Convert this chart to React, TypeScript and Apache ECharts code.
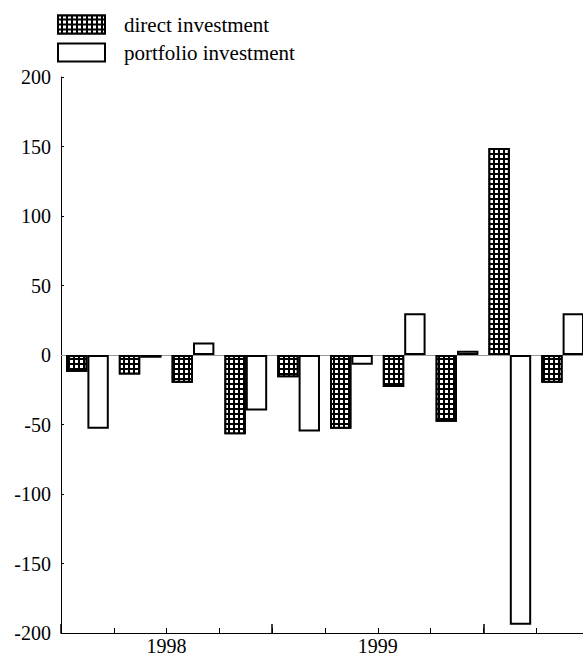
import React, { useEffect, useRef } from "react";
import * as echarts from "echarts";

const categories = ["1998Q1", "1998Q2", "1998Q3", "1998Q4", "1999Q1", "1999Q2", "1999Q3", "1999Q4", "2000Q1", "2000Q2"];
const directInvestment = [-12, -14, -20, -57, -16, -53, -23, -48, 149, -20];
const portfolioInvestment = [-53, -2, 9, -40, -55, -7, 30, 3, -194, 30];
const yearLabels: Record<number, string> = { 2: "1998", 6: "1999" };
const yTicks = { min: -200, max: 200, interval: 50 };

const FONT = "'Liberation Serif', 'Times New Roman', serif";

export default function App() {
  const ref = useRef<HTMLDivElement>(null);
  useEffect(() => {
    if (!ref.current) return;
    const chart = echarts.init(ref.current, null, { renderer: "svg" });
    chart.setOption({
      animation: false,
      backgroundColor: "#fff",
      textStyle: { fontFamily: FONT },
      legend: {
        orient: "vertical",
        left: 52,
        top: 9,
        itemWidth: 47,
        itemHeight: 18,
        itemGap: 7,
        icon: "rect",
        textStyle: { fontFamily: FONT, fontSize: 21, color: "#000", padding: [0, 0, 0, 14] },
        data: ["direct investment", "portfolio investment"],
      },
      grid: { left: 61, right: 11, top: 77, bottom: 24, containLabel: false },
      xAxis: [
        {
          type: "category",
          data: categories,
          position: "bottom",
          boundaryGap: true,
          axisLine: { onZero: false, lineStyle: { color: "#000", width: 1 } },
          axisTick: { show: true, inside: true, length: 5, interval: 0, lineStyle: { color: "#000" } },
          axisLabel: { show: false },
          splitLine: { show: false },
        },
        {
          type: "value",
          min: 0,
          max: 10,
          interval: 4,
          position: "bottom",
          offset: 0,
          axisLine: { show: false, onZero: false },
          axisTick: { show: true, inside: true, length: 9, lineStyle: { color: "#000", width: 1.5 } },
          axisLabel: { show: false },
          splitLine: { show: false },
        },
        {
          type: "value",
          min: 0,
          max: 10,
          interval: 2,
          position: "bottom",
          offset: 0,
          axisLine: { show: false, onZero: false },
          axisTick: { show: false },
          axisLabel: {
            show: true,
            margin: 3,
            fontFamily: FONT,
            fontSize: 20,
            color: "#000",
            formatter: (v: number) => yearLabels[v] || "",
          },
          splitLine: { show: false },
        },
      ],
      yAxis: {
        type: "value",
        min: yTicks.min,
        max: yTicks.max,
        interval: yTicks.interval,
        axisLine: { show: true, lineStyle: { color: "#000", width: 1 } },
        axisTick: { show: true, inside: true, length: 3, lineStyle: { color: "#000" } },
        axisLabel: { fontFamily: FONT, fontSize: 20, color: "#000", margin: 10 },
        splitLine: { show: false },
      },
      series: [
        {
          name: "direct investment",
          type: "bar",
          xAxisIndex: 0,
          data: directInvestment,
          barGap: "0%",
          barCategoryGap: "19%",
          itemStyle: {
            color: "#000",
            borderColor: "#000",
            borderWidth: 2,
            decal: {
              symbol: "rect",
              symbolSize: 1,
              color: "#fff",
              dashArrayX: [2.5, 1.5],
              dashArrayY: [2.5, 1.5],
              rotation: 0,
            },
          },
          markLine: {
            silent: true,
            symbol: "none",
            label: { show: false },
            lineStyle: { color: "#999", width: 1, type: "solid" },
            data: [{ yAxis: 0 }],
            z: 1,
          },
        },
        {
          name: "portfolio investment",
          type: "bar",
          xAxisIndex: 0,
          data: portfolioInvestment,
          barGap: "0%",
          barCategoryGap: "19%",
          itemStyle: { color: "#fff", borderColor: "#000", borderWidth: 2 },
        },
      ],
    });
    return () => chart.dispose();
  }, []);
  return (
    <div
      ref={ref}
      style={{ position: "fixed", left: 0, top: 0, width: 600, height: 657, overflow: "hidden" }}
    />
  );
}
